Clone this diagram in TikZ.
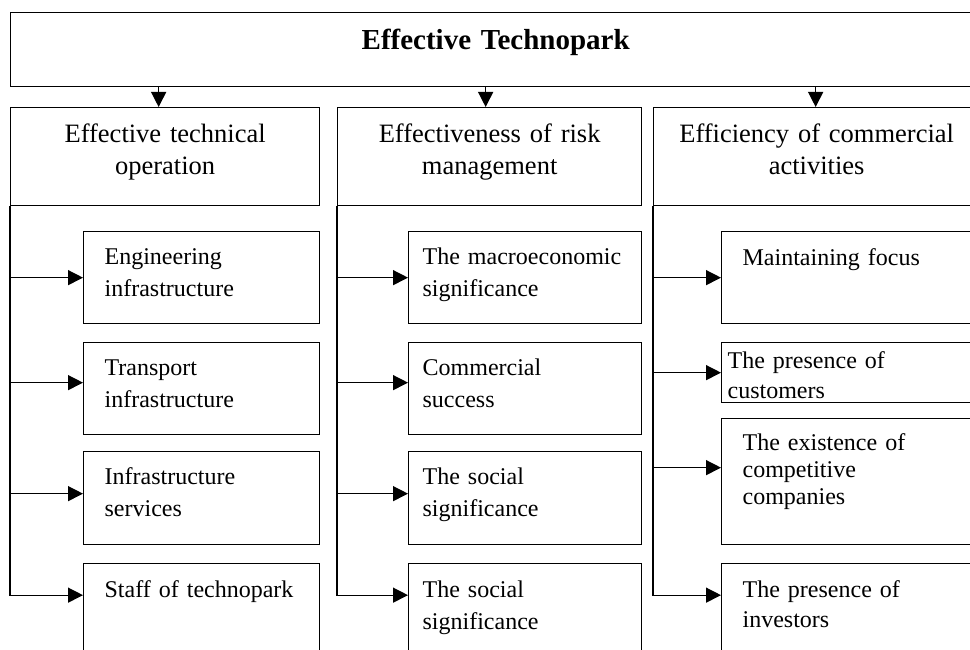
\documentclass[tikz,border=0pt]{standalone}
\usepackage{fontspec}
\setmainfont{Liberation Serif}
\usetikzlibrary{arrows.meta,positioning}
\tikzset{>={Triangle[length=15pt,width=15pt]}}

\begin{document}
\begin{tikzpicture}[x=1pt,y=-1pt,line width=1.3pt,
    topbox/.style={draw, anchor=north west, align=center, inner sep=0pt, font=\fontsize{29}{35}\selectfont\bfseries},
    headbox/.style={draw, anchor=north west, align=center, inner sep=0pt, text height=35pt, text depth=63pt, font=\fontsize{26.5}{31.5}\selectfont},
    itembox/.style={draw, anchor=north west, align=left, inner ysep=0pt, text height=33pt, text depth=59pt, font=\fontsize{24}{31.7}\selectfont},
    colA/.style={itembox, inner xsep=21pt, text width=194pt},
    colB/.style={itembox, inner xsep=14pt, text width=205pt},
    colC/.style={itembox, inner xsep=21pt, text width=217pt}]
            \useasboundingbox (0,0) rectangle (970,650);
            \clip (0,0) rectangle (970,650);

            \node[topbox, text width=970pt, text height=37pt, text depth=37pt] (top) at (10,12) {Effective Technopark};

            \node[headbox, text width=309pt] (h1) at (10,107) {Effective technical\\operation};
            \node[headbox, text width=304pt] (h2) at (337,107) {Effectiveness of risk\\management};
            \node[headbox, text width=326pt] (h3) at (653,107) {Efficiency of commercial\\activities};

            \draw[->] ([xshift=-6.5pt]h1.north |- top.south) -- ([xshift=-6.5pt]h1.north);
            \draw[->] ([xshift=-4pt]h2.north |- top.south) -- ([xshift=-4pt]h2.north);
            \draw[->] ([xshift=-1pt]h3.north |- top.south) -- ([xshift=-1pt]h3.north);

            % first column
            \node[colA] (a1) at (83,231) {Engineering\\infrastructure};
            \node[colA] (a2) at (83,342) {Transport\\infrastructure};
            \node[colA, text depth=60pt] (a3) at (83,451) {Infrastructure\\services};
            \node[colA, text height=34pt] (a4) at (83,563) {Staff of technopark};

            \draw[<-] (a1.west) -| (h1.south west);
            \draw[<-] ([yshift=6pt]a2.west) -| (h1.south west);
            \draw[<-] ([yshift=4.5pt]a3.west) -| (h1.south west);
            \draw[<-] ([yshift=15pt]a4.west) -| (h1.south west);

            % second column
            \node[colB] (b1) at (408,231) {The macroeconomic\\significance};
            \node[colB] (b2) at (408,342) {Commercial\\success};
            \node[colB, text depth=60pt] (b3) at (408,451) {The social\\significance};
            \node[colB, text height=34pt] (b4) at (408,563) {The social\\significance};

            \draw[<-] (b1.west) -| (h2.south west);
            \draw[<-] ([yshift=6pt]b2.west) -| (h2.south west);
            \draw[<-] ([yshift=4.5pt]b3.west) -| (h2.south west);
            \draw[<-] ([yshift=15pt]b4.west) -| (h2.south west);

            % third column
            \node[colC, text height=34pt, text depth=58pt] (c1) at (721,231) {Maintaining focus};
            \node[colC, inner xsep=6pt, text width=247pt, text height=26pt, text depth=34pt, font=\fontsize{24}{30}\selectfont] (c2) at (721,342) {The presence of\\customers};
            \node[colC, text height=32pt, text depth=94pt, font=\fontsize{24}{27}\selectfont] (c3) at (721,418) {The existence of\\competitive\\companies};
            \node[colC, text height=34pt, font=\fontsize{24}{30}\selectfont] (c4) at (721,563) {The presence of\\investors};

            \draw[<-] (c1.west) -| (h3.south west);
            \draw[<-] (c2.west) -| (h3.south west);
            \draw[<-] ([yshift=14pt]c3.west) -| (h3.south west);
            \draw[<-] ([yshift=15pt]c4.west) -| (h3.south west);
\end{tikzpicture}
\end{document}
